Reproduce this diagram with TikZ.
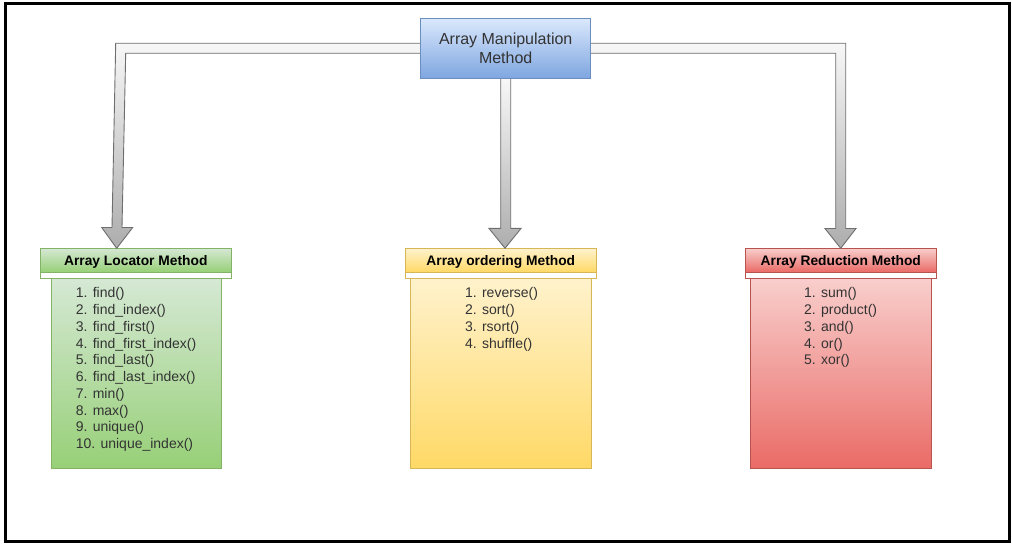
\documentclass[tikz,border=0pt]{standalone}
\usepackage{fontspec}
\setmainfont{Liberation Sans}
\usetikzlibrary{calc}
\definecolor{bluetop}{HTML}{DAE8FC}
\definecolor{bluebot}{HTML}{7EA6E0}
\definecolor{blueline}{HTML}{6C8EBF}
\definecolor{greentop}{HTML}{D5E8D4}
\definecolor{greenbot}{HTML}{97D077}
\definecolor{greenline}{HTML}{82B366}
\definecolor{yeltop}{HTML}{FFF2CC}
\definecolor{yelbot}{HTML}{FFD966}
\definecolor{yelline}{HTML}{D6B656}
\definecolor{redtop}{HTML}{F8CECC}
\definecolor{redbot}{HTML}{EA6B66}
\definecolor{redline}{HTML}{B85450}
\definecolor{arrtop}{HTML}{F7F7F7}
\definecolor{arrbot}{HTML}{ADADAD}
\definecolor{arrline}{HTML}{6E6E6E}
\definecolor{txt}{HTML}{333333}
\begin{document}
\begin{tikzpicture}[x=1pt,y=-1pt,
  bigarrow/.style={draw=arrline,line width=0.9pt,top color=arrtop,bottom color=arrbot,line join=miter},
  topbox/.style={draw=blueline,line width=0.9pt,top color=bluetop,bottom color=bluebot,
     minimum width=170pt,minimum height=60pt,inner sep=0pt,align=center,text=txt,
     font=\fontsize{16pt}{19pt}\selectfont},
  hdrframe/.style={draw=#1,line width=0.9pt,fill=white,minimum width=190.7pt,minimum height=30pt,
     inner sep=0pt,anchor=north west},
  bodybox/.style={draw=#1,line width=0.9pt,minimum height=190pt,
     inner sep=0pt,anchor=north west},
  hdrtext/.style={font=\fontsize{13.8pt}{16pt}\selectfont\bfseries,inner sep=0pt},
  listtext/.style={font=\fontsize{14pt}{16.75pt}\selectfont,text=txt,align=left,inner sep=0pt,anchor=north west}
]
\useasboundingbox (0,0) rectangle (1012,545);
\draw[line width=3pt] (5.5,3.5) rectangle (1009.5,541.5);

% top node
\node[topbox] (top) at (505.7,48.3) {Array Manipulation\\Method};

% bodies
\node[bodybox=greenline,minimum width=170pt,top color=greentop,bottom color=greenbot] (locbody) at (50.7,278.3) {};
\node[bodybox=yelline,minimum width=181pt,top color=yeltop,bottom color=yelbot] (ordbody) at (410,278.3) {};
\node[bodybox=redline,minimum width=181pt,top color=redtop,bottom color=redbot] (redbody) at (750,278.3) {};

% headers
\node[hdrframe=greenline] (lochead) at (40,248.3) {};
\node[hdrframe=yelline] (ordhead) at (405,248.3) {};
\node[hdrframe=redline] (redhead) at (745,248.3) {};
\shade[top color=greentop,bottom color=greenbot,draw=greenline,line width=0.9pt]
  (lochead.north west) rectangle ($(lochead.east)+(0,8.4)$);
\shade[top color=yeltop,bottom color=yelbot,draw=yelline,line width=0.9pt]
  (ordhead.north west) rectangle ($(ordhead.east)+(0,8.4)$);
\shade[top color=redtop,bottom color=redbot,draw=redline,line width=0.9pt]
  (redhead.north west) rectangle ($(redhead.east)+(0,8.4)$);
\node[hdrtext] (loctitle) at ($(lochead.north)+(0,13.5)$) {Array Locator Method};
\node[hdrtext] (ordtitle) at ($(ordhead.north)+(0,13.5)$) {Array ordering Method};
\node[hdrtext] (redtitle) at ($(redhead.north)+(0,13.5)$) {Array Reduction Method};

% lists
\node[listtext] (loclist) at (75.7,287.5) {1. find()\\2. find\_index()\\3. find\_first()\\4. find\_first\_index()\\5. find\_last()\\6. find\_last\_index()\\7. min()\\8. max()\\9. unique()\\10. unique\_index()};
\node[listtext] (ordlist) at (465,287.5) {1. reverse()\\2. sort()\\3. rsort()\\4. shuffle()};
\node[listtext] (redlist) at (804,287.5) {1. sum()\\2. product()\\3. and()\\4. or()\\5. xor()};

% arrows
\path[bigarrow] ($(top.west)+(0,-5)$) -- (115.7,43.3) -- (112,227.5) -- (101.7,227.5)
  -- ($(lochead.north west)+(76.7,0)$) -- (132.7,227.5) -- (122,227.5) -- (125.7,53.3)
  -- ($(top.west)+(0,5)$);
\path[bigarrow] ($(top.south)+(-5,0)$) -- ($(top.south)+(-5,149.7)$) -- ($(top.south)+(-16.7,149.7)$)
  -- ($(top.south)+(-0.7,169.5)$) -- ($(top.south)+(15.3,149.7)$) -- ($(top.south)+(5,149.7)$)
  -- ($(top.south)+(5,0)$);
\path[bigarrow] ($(top.east)+(0,-5)$) -- (845.7,43.3) -- (845.7,228.5) -- (856,228.5)
  -- ($(redhead.north west)+(95.7,0)$) -- (825,228.5) -- (835.7,228.5) -- (835.7,53.3)
  -- ($(top.east)+(0,5)$);
% redraw top node over arrow joins
\node[topbox] at (top) {Array Manipulation\\Method};
\end{tikzpicture}
\end{document}
